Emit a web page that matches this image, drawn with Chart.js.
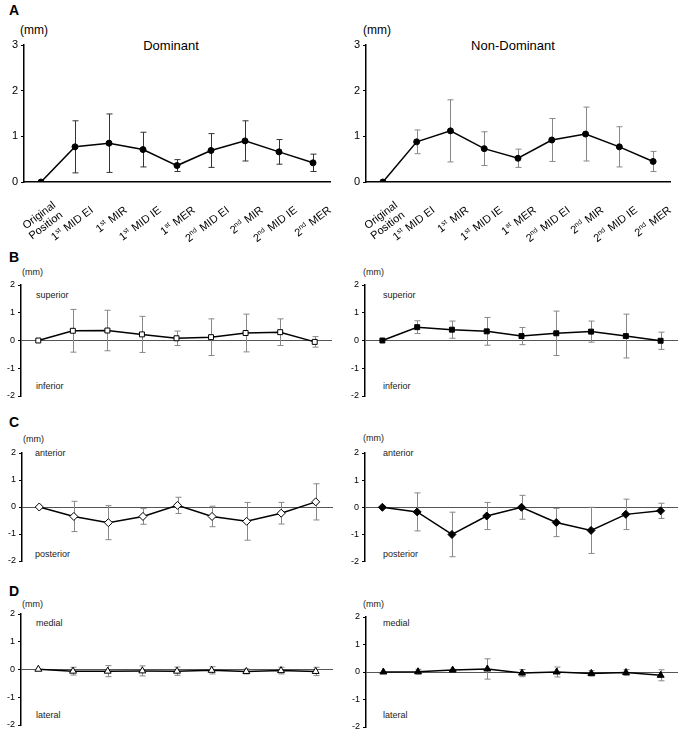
<!DOCTYPE html>
<html>
<head>
<meta charset="utf-8">
<script src="https://cdn.jsdelivr.net/npm/chart.js@4.4.0/dist/chart.umd.min.js"></script>
<style>
  body { margin: 0; background: #fff; width: 685px; height: 740px; position: relative; overflow: hidden;
         font-family: "Liberation Sans", Arial, sans-serif; color: #000; }
  canvas { position: absolute; }
  .t { position: absolute; white-space: nowrap; line-height: 1; }
  .big { font-weight: bold; font-size: 14px; }
  .mm { font-size: 12px; }
  .sm { font-size: 9px; color: #222; }
</style>
</head>
<body>
<div class="t big" style="left:9px;top:3px">A</div>
<div class="t mm" style="left:20px;top:24px">(mm)</div>
<div class="t mm" style="left:363px;top:24px">(mm)</div>
<div class="t" style="left:171px;top:39px;font-size:13px;transform:translateX(-50%)">Dominant</div>
<div class="t" style="left:513px;top:39px;font-size:13px;transform:translateX(-50%)">Non-Dominant</div>

<div class="t big" style="left:9px;top:250px">B</div>
<div class="t sm" style="left:22px;top:268px">(mm)</div>
<div class="t sm" style="left:363px;top:268px">(mm)</div>
<div class="t sm" style="left:36px;top:291px">superior</div>
<div class="t sm" style="left:383px;top:291px">superior</div>
<div class="t sm" style="left:36px;top:382px">inferior</div>
<div class="t sm" style="left:383px;top:382px">inferior</div>

<div class="t big" style="left:9px;top:415px">C</div>
<div class="t sm" style="left:23px;top:435px">(mm)</div>
<div class="t sm" style="left:363px;top:434px">(mm)</div>
<div class="t sm" style="left:35px;top:449px">anterior</div>
<div class="t sm" style="left:383px;top:449px">anterior</div>
<div class="t sm" style="left:35px;top:550px">posterior</div>
<div class="t sm" style="left:383px;top:550px">posterior</div>

<div class="t big" style="left:9px;top:584px">D</div>
<div class="t sm" style="left:22px;top:600px">(mm)</div>
<div class="t sm" style="left:363px;top:600px">(mm)</div>
<div class="t sm" style="left:36px;top:619px">medial</div>
<div class="t sm" style="left:383px;top:619px">medial</div>
<div class="t sm" style="left:36px;top:711px">lateral</div>
<div class="t sm" style="left:383px;top:711px">lateral</div>

<canvas id="aL" width="340" height="250" style="left:0;top:0"></canvas>
<canvas id="aR" width="345" height="250" style="left:340px;top:0"></canvas>
<canvas id="bL" width="340" height="145" style="left:0;top:260px"></canvas>
<canvas id="bR" width="345" height="145" style="left:340px;top:260px"></canvas>
<canvas id="cL" width="340" height="150" style="left:0;top:420px"></canvas>
<canvas id="cR" width="345" height="150" style="left:340px;top:420px"></canvas>
<canvas id="dL" width="340" height="160" style="left:0;top:580px"></canvas>
<canvas id="dR" width="345" height="160" style="left:340px;top:580px"></canvas>

<script>
// categories
const categories = [['Original', 'Position'], '1st MID EI', '1st MIR', '1st MID IE', '1st MER',
                    '2nd MID EI', '2nd MIR', '2nd MID IE', '2nd MER'];

// A: total displacement
const domTotal   = [0, 0.77, 0.85, 0.71, 0.36, 0.69, 0.90, 0.66, 0.42];
const domTotalSD = [0, 0.57, 0.64, 0.38, 0.13, 0.37, 0.44, 0.27, 0.19];
const nonTotal   = [0, 0.88, 1.12, 0.73, 0.52, 0.92, 1.05, 0.77, 0.45];
const nonTotalSD = [0, 0.26, 0.68, 0.37, 0.20, 0.47, 0.59, 0.44, 0.22];

// B: superior / inferior
const domSI   = [0, 0.35, 0.36, 0.22, 0.08, 0.12, 0.27, 0.30, -0.05];
const domSISD = [0, 0.77, 0.73, 0.65, 0.26, 0.66, 0.68, 0.48, 0.19];
const nonSI   = [0, 0.48, 0.39, 0.33, 0.16, 0.26, 0.32, 0.16, -0.01];
const nonSISD = [0, 0.23, 0.31, 0.50, 0.31, 0.80, 0.38, 0.79, 0.31];

// C: anterior / posterior
const domAP   = [0, -0.35, -0.58, -0.35, 0.06, -0.35, -0.53, -0.23, 0.19];
const domAPSD = [0, 0.56, 0.63, 0.29, 0.30, 0.38, 0.70, 0.40, 0.67];
const nonAP   = [0, -0.17, -1.00, -0.32, 0.00, -0.56, -0.85, -0.26, -0.13];
const nonAPSD = [0, 0.70, 0.82, 0.50, 0.44, 0.52, 0.85, 0.56, 0.28];

// D: medial / lateral
const domML   = [0.01, -0.06, -0.06, -0.05, -0.06, -0.03, -0.07, -0.04, -0.07];
const domMLSD = [0, 0.14, 0.20, 0.18, 0.15, 0.13, 0.09, 0.12, 0.15];
const nonML   = [0, 0.01, 0.07, 0.11, -0.04, 0.00, -0.05, -0.02, -0.12];
const nonMLSD = [0, 0.09, 0.03, 0.37, 0.13, 0.18, 0.10, 0.11, 0.20];

// y ranges
const rangeA = [0, 3];
const rangeBCD = [-2, 2];

const FONT = '"Liberation Sans", Arial, sans-serif';

// error bars (mean +/- SD), drawn under the markers
const errorBars = {
  id: 'errorBars',
  beforeDatasetsDraw(chart, args, opts) {
    const {ctx, scales: {x, y}} = chart;
    const vals = chart.data.datasets[0].data;
    ctx.save();
    ctx.strokeStyle = opts.color;
    ctx.lineWidth = 1;
    vals.forEach((v, i) => {
      const s = opts.sd[i];
      if (!s) return;
      const px = Math.round(x.getPixelForValue(i)) + 0.5;
      const t = y.getPixelForValue(v + s), b = y.getPixelForValue(v - s);
      ctx.beginPath();
      ctx.moveTo(px, t); ctx.lineTo(px, b);
      ctx.moveTo(px - 3, t); ctx.lineTo(px + 3, t);
      ctx.moveTo(px - 3, b); ctx.lineTo(px + 3, b);
      ctx.stroke();
    });
    ctx.restore();
  }
};

// right-aligned text with "1st" / "2nd" superscripts
function supText(ctx, s) {
  const m = s.match(/^(\d)(st|nd|rd|th)(.*)$/);
  const big = '11px ' + FONT, small = '7px ' + FONT;
  ctx.font = big;
  if (!m) { ctx.textAlign = 'right'; ctx.fillText(s, 0, 0); return; }
  ctx.textAlign = 'left';
  const w1 = ctx.measureText(m[1]).width, w3 = ctx.measureText(m[3]).width;
  ctx.font = small;
  const w2 = ctx.measureText(m[2]).width + 1;
  let xx = -(w1 + w2 + w3);
  ctx.font = big;   ctx.fillText(m[1], xx, 0); xx += w1;
  ctx.font = small; ctx.fillText(m[2], xx, -3); xx += w2;
  ctx.font = big;   ctx.fillText(m[3], xx, 0);
}

// rotated category labels under panel A
const xLabels = {
  id: 'xLabels',
  afterDraw(chart, args, opts) {
    if (!opts.show) return;
    const {ctx, scales: {x, y}} = chart;
    const base = y.getPixelForValue(y.min);
    const a = 37 * Math.PI / 180;
    ctx.save();
    ctx.fillStyle = '#000';
    ctx.textBaseline = 'middle';
    chart.data.labels.forEach((lab, i) => {
      const lines = Array.isArray(lab) ? lab : [lab];
      const px = x.getPixelForValue(i);
      lines.forEach((line, k) => {
        const off = (k - (lines.length - 1) / 2) * 12;
        ctx.save();
        ctx.translate(px + 17 + off * Math.sin(a), base + 27 + off * Math.cos(a));
        ctx.rotate(-a);
        supText(ctx, line);
        ctx.restore();
      });
    });
    ctx.restore();
  }
};

function panel(id, o) {
  const el = document.getElementById(id);
  const [L, T, R, B] = o.area;
  const big = !!o.showX;
  const fs = big ? 11 : 9;
  new Chart(el, {
    type: 'line',
    data: {
      labels: categories,
      datasets: [{
        data: o.values,
        borderColor: '#000',
        borderWidth: 1.5,
        pointStyle: o.style,
        pointRadius: o.radius,
        pointBackgroundColor: o.fill,
        pointBorderColor: '#000',
        pointBorderWidth: 1,
        tension: 0
      }]
    },
    options: {
      responsive: false,
      animation: false,
      events: [],
      layout: { autoPadding: false, padding: { left: 0, top: T, right: el.width - R, bottom: el.height - B } },
      plugins: {
        legend: { display: false },
        tooltip: { enabled: false },
        errorBars: { sd: o.sd, color: o.barColor },
        xLabels: { show: big }
      },
      scales: {
        x: {
          display: big,
          offset: true,
          afterFit: s => { s.height = 0; },
          grid: { display: false },
          border: { display: true, color: '#000', width: 1.5 },
          ticks: { display: false }
        },
        y: {
          min: o.range[0], max: o.range[1],
          afterFit: s => { s.width = L; },
          border: { display: true, color: '#000', width: 1.5 },
          grid: {
            drawOnChartArea: !big,
            color: c => (c.tick && c.tick.value === 0) ? '#555' : 'rgba(0,0,0,0)',
            tickColor: '#000', tickLength: 3
          },
          ticks: { stepSize: 1, padding: 3, color: '#000', font: { family: FONT, size: fs } }
        }
      }
    },
    plugins: [errorBars, xLabels]
  });
}

panel('aL', { area: [24, 45, 330, 182], values: domTotal, sd: domTotalSD, range: rangeA, style: 'circle', radius: 3, fill: '#000', barColor: '#333', showX: true });
panel('aR', { area: [26, 45, 330, 182], values: nonTotal, sd: nonTotalSD, range: rangeA, style: 'circle', radius: 3, fill: '#000', barColor: '#888', showX: true });
panel('bL', { area: [21, 25, 332, 136], values: domSI, sd: domSISD, range: rangeBCD, style: 'rect', radius: 3.5, fill: '#fff', barColor: '#888' });
panel('bR', { area: [25, 25, 338, 136], values: nonSI, sd: nonSISD, range: rangeBCD, style: 'rect', radius: 3.5, fill: '#000', barColor: '#888' });
panel('cL', { area: [22, 33, 333, 141], values: domAP, sd: domAPSD, range: rangeBCD, style: 'rectRot', radius: 4, fill: '#fff', barColor: '#888' });
panel('cR', { area: [25, 33, 338, 143], values: nonAP, sd: nonAPSD, range: rangeBCD, style: 'rectRot', radius: 4, fill: '#000', barColor: '#888' });
panel('dL', { area: [21, 34, 333, 145], values: domML, sd: domMLSD, range: rangeBCD, style: 'triangle', radius: 4, fill: '#fff', barColor: '#888' });
panel('dR', { area: [26, 37, 338, 147], values: nonML, sd: nonMLSD, range: rangeBCD, style: 'triangle', radius: 4, fill: '#000', barColor: '#888' });
</script>
</body>
</html>
